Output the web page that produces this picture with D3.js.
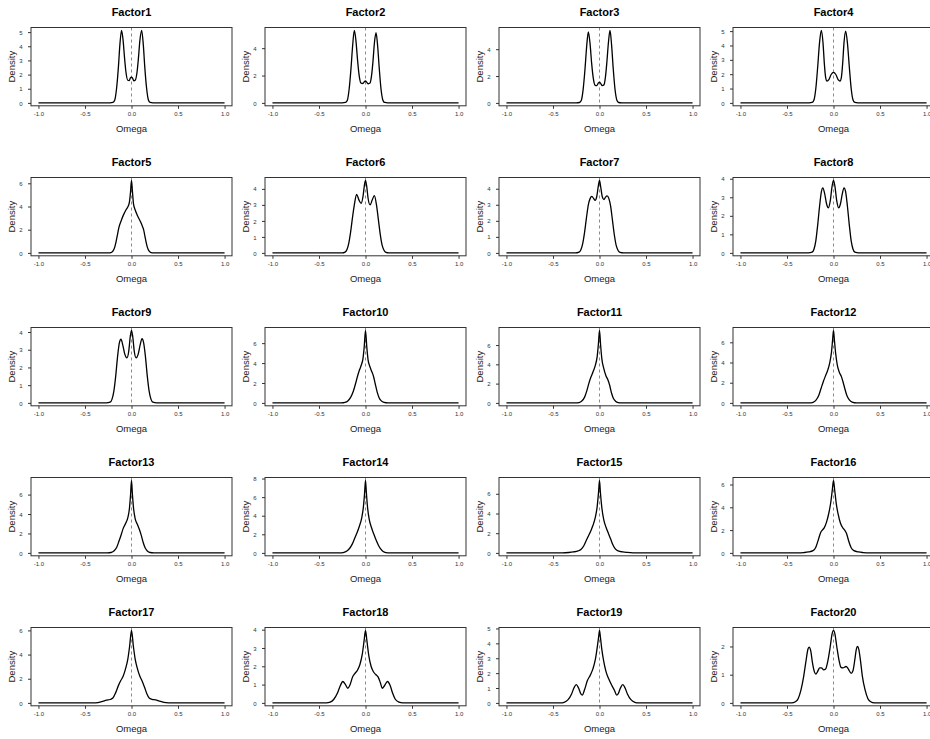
<!DOCTYPE html>
<html>
<head>
<meta charset="utf-8">
<script src="https://cdn.jsdelivr.net/npm/d3@7"></script>
<style>
  body { margin: 0; background: #fff; }
  text { font-family: "Liberation Sans", Arial, Helvetica, sans-serif; }
</style>
</head>
<body>
<script>
// panel titles
const factorNames = ["Factor1", "Factor2", "Factor3", "Factor4", "Factor5", "Factor6", "Factor7",
  "Factor8", "Factor9", "Factor10", "Factor11", "Factor12", "Factor13", "Factor14", "Factor15",
  "Factor16", "Factor17", "Factor18", "Factor19", "Factor20"];

const omegaTicks = [-1, -0.5, 0, 0.5, 1];

const densityTicks = [
  [0, 1, 2, 3, 4, 5], [0, 2, 4], [0, 2, 4], [0, 1, 2, 3, 4, 5],
  [0, 2, 4, 6], [0, 1, 2, 3, 4], [0, 1, 2, 3, 4], [0, 1, 2, 3, 4],
  [0, 1, 2, 3, 4], [0, 2, 4, 6], [0, 2, 4, 6], [0, 2, 4, 6],
  [0, 2, 4, 6], [0, 2, 4, 6, 8], [0, 2, 4, 6], [0, 2, 4, 6],
  [0, 2, 4, 6], [0, 1, 2, 3, 4], [0, 1, 2, 3, 4, 5], [0, 1, 2]
];

// density curves: [omega, density]
const f1 = [[-1,0],[-0.23,0],[-0.2,0.03],[-0.18,0.2],[-0.16,1.05],[-0.14,2.6],[-0.125,4.1],[-0.107,5.12],[-0.09,4.4],[-0.075,3.2],[-0.06,2.2],[-0.04,1.6],[-0.025,1.58],[-0.01,1.78],[0,1.82],[0.01,1.76],[0.025,1.56],[0.04,1.6],[0.06,2.2],[0.075,3.2],[0.09,4.4],[0.109,5.12],[0.127,4.1],[0.142,2.6],[0.162,1.05],[0.182,0.2],[0.2,0.03],[0.23,0],[1,0]];
const f2 = [[-1,0],[-0.25,0],[-0.215,0.03],[-0.195,0.2],[-0.175,1.05],[-0.155,2.6],[-0.138,4.2],[-0.12,5.3],[-0.102,4.5],[-0.085,3.1],[-0.068,2.0],[-0.048,1.45],[-0.028,1.42],[-0.012,1.55],[0,1.6],[0.012,1.52],[0.03,1.4],[0.048,1.45],[0.065,2.0],[0.08,3.0],[0.096,4.4],[0.113,5.13],[0.13,4.2],[0.147,2.6],[0.167,1.0],[0.187,0.2],[0.205,0.03],[0.24,0],[1,0]];
const f3 = [[-1,0],[-0.25,0],[-0.215,0.03],[-0.195,0.2],[-0.175,1.05],[-0.155,2.6],[-0.138,4.2],[-0.12,5.28],[-0.102,4.45],[-0.085,3.0],[-0.068,1.9],[-0.048,1.32],[-0.03,1.28],[-0.012,1.48],[0,1.55],[0.012,1.45],[0.03,1.28],[0.048,1.35],[0.065,2.0],[0.08,3.1],[0.096,4.5],[0.113,5.4],[0.13,4.3],[0.147,2.6],[0.167,1.0],[0.187,0.2],[0.205,0.03],[0.24,0],[1,0]];
const f4 = [[-1,0],[-0.26,0],[-0.23,0.03],[-0.21,0.2],[-0.19,1.0],[-0.17,2.5],[-0.15,4.2],[-0.131,5.05],[-0.113,4.2],[-0.098,2.7],[-0.085,1.8],[-0.07,1.52],[-0.05,1.62],[-0.025,1.98],[0,2.13],[0.025,1.98],[0.05,1.62],[0.07,1.52],[0.085,1.8],[0.098,2.7],[0.113,4.2],[0.131,5.0],[0.15,4.15],[0.17,2.5],[0.19,1.0],[0.21,0.2],[0.23,0.03],[0.26,0],[1,0]];
const f5 = [[-1,0],[-0.25,0],[-0.22,0.03],[-0.2,0.15],[-0.18,0.5],[-0.165,1.0],[-0.15,1.6],[-0.135,2.2],[-0.11,2.8],[-0.085,3.3],[-0.06,3.7],[-0.04,3.95],[-0.022,4.4],[-0.01,5.3],[0,6.25],[0.01,5.3],[0.022,4.2],[0.04,3.7],[0.065,3.2],[0.09,2.8],[0.11,2.45],[0.13,2.0],[0.15,1.2],[0.17,0.5],[0.19,0.15],[0.21,0.03],[0.24,0],[1,0]];
const f6 = [[-1,0],[-0.25,0],[-0.22,0.05],[-0.2,0.2],[-0.18,0.6],[-0.16,1.3],[-0.14,2.2],[-0.12,3.0],[-0.095,3.65],[-0.07,3.3],[-0.047,3.1],[-0.025,3.6],[-0.01,4.3],[0,4.53],[0.012,4.2],[0.028,3.4],[0.05,3.0],[0.072,3.3],[0.095,3.58],[0.118,3.0],[0.14,2.0],[0.16,1.1],[0.18,0.45],[0.2,0.15],[0.22,0.03],[0.25,0],[1,0]];
const f7 = [[-1,0],[-0.26,0],[-0.22,0.05],[-0.2,0.2],[-0.18,0.6],[-0.16,1.3],[-0.14,2.2],[-0.12,3.0],[-0.1,3.4],[-0.082,3.52],[-0.062,3.38],[-0.047,3.28],[-0.03,3.5],[-0.012,4.2],[0,4.52],[0.012,4.15],[0.03,3.5],[0.047,3.33],[0.065,3.48],[0.082,3.55],[0.1,3.4],[0.12,2.9],[0.14,2.0],[0.16,1.1],[0.18,0.45],[0.2,0.15],[0.22,0.03],[0.26,0],[1,0]];
const f8 = [[-1,0],[-0.27,0],[-0.23,0.04],[-0.21,0.2],[-0.19,0.65],[-0.17,1.5],[-0.15,2.5],[-0.13,3.3],[-0.115,3.51],[-0.095,3.2],[-0.075,2.65],[-0.055,2.43],[-0.035,2.8],[-0.015,3.6],[0,3.91],[0.015,3.6],[0.035,2.8],[0.055,2.43],[0.075,2.65],[0.095,3.2],[0.113,3.51],[0.13,3.3],[0.15,2.5],[0.17,1.5],[0.19,0.65],[0.21,0.2],[0.23,0.04],[0.27,0],[1,0]];
const f9 = [[-1,0],[-0.27,0],[-0.23,0.04],[-0.21,0.2],[-0.19,0.65],[-0.17,1.5],[-0.15,2.6],[-0.13,3.4],[-0.113,3.59],[-0.093,3.25],[-0.072,2.75],[-0.05,2.54],[-0.03,2.9],[-0.013,3.75],[0,4.09],[0.013,3.75],[0.03,2.9],[0.05,2.54],[0.072,2.75],[0.093,3.27],[0.113,3.62],[0.13,3.4],[0.15,2.6],[0.17,1.5],[0.19,0.65],[0.21,0.2],[0.23,0.04],[0.27,0],[1,0]];
const f10 = [[-1,0],[-0.26,0],[-0.22,0.05],[-0.19,0.2],[-0.16,0.55],[-0.13,1.2],[-0.105,2.0],[-0.085,2.7],[-0.065,3.3],[-0.045,3.8],[-0.028,4.4],[-0.014,5.6],[0,7.28],[0.014,5.6],[0.028,4.3],[0.045,3.7],[0.065,3.2],[0.085,2.7],[0.105,1.9],[0.125,1.1],[0.145,0.55],[0.17,0.2],[0.2,0.05],[0.24,0],[1,0]];
const f11 = [[-1,0],[-0.26,0],[-0.22,0.04],[-0.19,0.2],[-0.16,0.6],[-0.135,1.3],[-0.115,2.0],[-0.095,2.6],[-0.07,3.2],[-0.045,3.9],[-0.025,4.8],[-0.012,6.1],[0,7.52],[0.012,6.0],[0.025,4.6],[0.045,3.6],[0.07,2.8],[0.09,2.4],[0.11,1.8],[0.13,1.0],[0.15,0.45],[0.175,0.15],[0.2,0.04],[0.24,0],[1,0]];
const f12 = [[-1,0],[-0.26,0],[-0.22,0.06],[-0.19,0.25],[-0.16,0.7],[-0.135,1.4],[-0.11,2.1],[-0.085,2.7],[-0.06,3.3],[-0.04,4.0],[-0.022,5.0],[-0.01,6.2],[0,7.18],[0.01,6.2],[0.022,5.0],[0.04,3.8],[0.06,3.1],[0.085,2.6],[0.105,2.0],[0.125,1.3],[0.145,0.7],[0.17,0.3],[0.2,0.08],[0.25,0],[1,0]];
const f13 = [[-1,0],[-0.26,0],[-0.22,0.04],[-0.19,0.2],[-0.16,0.55],[-0.135,1.2],[-0.11,1.9],[-0.09,2.5],[-0.065,3.0],[-0.04,3.6],[-0.022,4.6],[-0.01,6.0],[0,7.46],[0.01,6.0],[0.022,4.6],[0.04,3.5],[0.065,2.9],[0.085,2.4],[0.105,1.8],[0.125,1.1],[0.145,0.55],[0.17,0.2],[0.2,0.04],[0.24,0],[1,0]];
const f14 = [[-1,0],[-0.28,0],[-0.24,0.04],[-0.2,0.2],[-0.17,0.5],[-0.14,1.0],[-0.115,1.6],[-0.09,2.2],[-0.065,2.9],[-0.04,3.8],[-0.022,5.0],[-0.01,6.4],[0,7.8],[0.01,6.4],[0.022,4.9],[0.04,3.6],[0.065,2.7],[0.09,2.0],[0.115,1.35],[0.14,0.8],[0.165,0.4],[0.19,0.15],[0.22,0.04],[0.26,0],[1,0]];
const f15 = [[-1,0],[-0.4,0],[-0.33,0.04],[-0.28,0.1],[-0.23,0.2],[-0.2,0.35],[-0.17,0.7],[-0.145,1.2],[-0.12,1.7],[-0.095,2.2],[-0.07,2.8],[-0.045,3.6],[-0.025,4.7],[-0.01,6.2],[0,7.36],[0.01,6.1],[0.025,4.6],[0.045,3.4],[0.07,2.6],[0.095,2.0],[0.12,1.4],[0.145,0.8],[0.17,0.4],[0.2,0.2],[0.25,0.1],[0.3,0.05],[0.36,0.01],[0.4,0],[1,0]];
const f16 = [[-1,0],[-0.38,0],[-0.32,0.03],[-0.27,0.08],[-0.22,0.2],[-0.19,0.5],[-0.165,1.1],[-0.14,1.75],[-0.12,2.0],[-0.1,2.2],[-0.075,2.7],[-0.05,3.5],[-0.03,4.4],[-0.013,5.5],[0,6.36],[0.013,5.5],[0.03,4.3],[0.05,3.4],[0.075,2.6],[0.1,2.2],[0.12,2.0],[0.14,1.7],[0.165,1.0],[0.19,0.45],[0.22,0.2],[0.27,0.08],[0.32,0.03],[0.38,0],[1,0]];
const f17 = [[-1,0],[-0.42,0],[-0.36,0.03],[-0.31,0.12],[-0.27,0.22],[-0.23,0.28],[-0.2,0.4],[-0.17,0.85],[-0.14,1.45],[-0.115,1.85],[-0.09,2.2],[-0.065,2.8],[-0.04,3.6],[-0.02,4.7],[0,6.0],[0.02,4.7],[0.04,3.6],[0.065,2.8],[0.09,2.2],[0.115,1.8],[0.14,1.3],[0.165,0.75],[0.19,0.4],[0.22,0.3],[0.26,0.25],[0.3,0.15],[0.35,0.05],[0.4,0.01],[0.44,0],[1,0]];
const f18 = [[-1,0],[-0.42,0],[-0.38,0.04],[-0.34,0.2],[-0.3,0.55],[-0.27,0.95],[-0.244,1.17],[-0.215,1.0],[-0.19,0.8],[-0.165,1.0],[-0.14,1.4],[-0.115,1.6],[-0.085,1.8],[-0.06,2.1],[-0.035,2.65],[-0.015,3.4],[0,3.96],[0.015,3.4],[0.035,2.6],[0.06,2.0],[0.085,1.7],[0.11,1.55],[0.135,1.42],[0.16,1.1],[0.18,0.8],[0.205,0.95],[0.236,1.17],[0.265,0.95],[0.29,0.55],[0.32,0.2],[0.36,0.04],[0.4,0],[1,0]];
const f19 = [[-1,0],[-0.42,0],[-0.38,0.04],[-0.34,0.2],[-0.3,0.6],[-0.275,1.0],[-0.25,1.23],[-0.225,1.0],[-0.2,0.6],[-0.185,0.52],[-0.16,0.9],[-0.13,1.5],[-0.1,1.85],[-0.07,2.3],[-0.045,2.9],[-0.025,3.7],[-0.01,4.4],[0,4.87],[0.01,4.4],[0.025,3.6],[0.045,2.8],[0.07,2.1],[0.1,1.6],[0.13,1.2],[0.16,0.85],[0.185,0.52],[0.2,0.6],[0.225,1.0],[0.25,1.23],[0.275,1.0],[0.3,0.6],[0.34,0.2],[0.38,0.04],[0.42,0],[1,0]];
const f20 = [[-1,0],[-0.45,0],[-0.41,0.04],[-0.38,0.15],[-0.35,0.45],[-0.32,0.95],[-0.295,1.5],[-0.275,1.9],[-0.262,1.98],[-0.245,1.85],[-0.225,1.4],[-0.205,1.1],[-0.19,1.02],[-0.17,1.12],[-0.148,1.24],[-0.13,1.24],[-0.105,1.17],[-0.085,1.2],[-0.06,1.5],[-0.035,2.0],[-0.015,2.45],[0,2.57],[0.015,2.45],[0.035,2.0],[0.06,1.5],[0.08,1.26],[0.1,1.24],[0.135,1.29],[0.16,1.2],[0.19,1.05],[0.21,1.15],[0.23,1.55],[0.245,1.9],[0.258,2.0],[0.272,1.9],[0.29,1.5],[0.31,0.95],[0.34,0.45],[0.37,0.15],[0.4,0.04],[0.44,0],[1,0]];

const curves = [f1, f2, f3, f4, f5, f6, f7, f8, f9, f10, f11, f12, f13, f14, f15, f16, f17, f18, f19, f20];

const width = 930, height = 739;
const nCols = 4;
const colStep = 234, rowStep = 150;
const boxLeft = 31, boxTop = 27.5, boxW = 201, boxH = 78.3;

const svg = d3.select("body").append("svg")
  .attr("width", width)
  .attr("height", height);

svg.append("rect").attr("width", width).attr("height", height).attr("fill", "#fff");

curves.forEach((pts, i) => {
  const col = i % nCols, row = Math.floor(i / nCols);
  const g = svg.append("g")
    .attr("transform", `translate(${boxLeft + col * colStep},${boxTop + row * rowStep})`);

  // R style: 4% padding on both axes
  const x = d3.scaleLinear().domain([-1.08, 1.08]).range([0, boxW]);
  const ymax = d3.max(pts, d => d[1]);
  const y = d3.scaleLinear().domain([-0.04 * ymax, 1.04 * ymax]).range([boxH, 0]);

  // reference line at zero
  g.append("line")
    .attr("x1", x(0)).attr("x2", x(0))
    .attr("y1", 0).attr("y2", boxH)
    .attr("stroke", "#8a8a8a")
    .attr("stroke-width", 1)
    .attr("stroke-dasharray", "3,3");

  const line = d3.line()
    .x(d => x(d[0]))
    .y(d => y(d[1]))
    .curve(d3.curveMonotoneX);

  g.append("path")
    .datum(pts)
    .attr("d", line)
    .attr("fill", "none")
    .attr("stroke", "#000")
    .attr("stroke-width", 1.3);

  // x axis
  const xAxis = g.append("g")
    .attr("transform", `translate(0,${boxH})`)
    .call(d3.axisBottom(x).tickValues(omegaTicks).tickSize(3).tickPadding(2.5)
      .tickFormat(d => d.toFixed(1)));
  xAxis.select(".domain").remove();

  // y axis
  const yAxis = g.append("g")
    .call(d3.axisLeft(y).tickValues(densityTicks[i]).tickSize(3).tickPadding(4)
      .tickFormat(d => d));
  yAxis.select(".domain").remove();

  [xAxis, yAxis].forEach(ax => {
    ax.selectAll("line").attr("stroke", "#333");
    ax.selectAll("text").attr("font-size", 6).attr("fill", "#333")
      .attr("font-family", "Liberation Sans, Arial, sans-serif");
  });
  yAxis.selectAll("text").attr("text-anchor", "middle").attr("x", -10).attr("dy", "0.35em");

  // frame
  g.append("rect")
    .attr("width", boxW).attr("height", boxH)
    .attr("fill", "none")
    .attr("stroke", "#333")
    .attr("stroke-width", 1);

  // title
  g.append("text")
    .attr("x", boxW / 2).attr("y", -12)
    .attr("text-anchor", "middle")
    .attr("font-size", 11)
    .attr("font-weight", "bold")
    .attr("fill", "#000")
    .text(factorNames[i]);

  // axis titles
  g.append("text")
    .attr("x", boxW / 2).attr("y", boxH + 26)
    .attr("text-anchor", "middle")
    .attr("font-size", 9.5)
    .attr("fill", "#222")
    .text("Omega");

  g.append("text")
    .attr("transform", `translate(-16.5,${boxH / 2}) rotate(-90)`)
    .attr("text-anchor", "middle")
    .attr("font-size", 9.5)
    .attr("fill", "#222")
    .text("Density");
});
</script>
</body>
</html>
